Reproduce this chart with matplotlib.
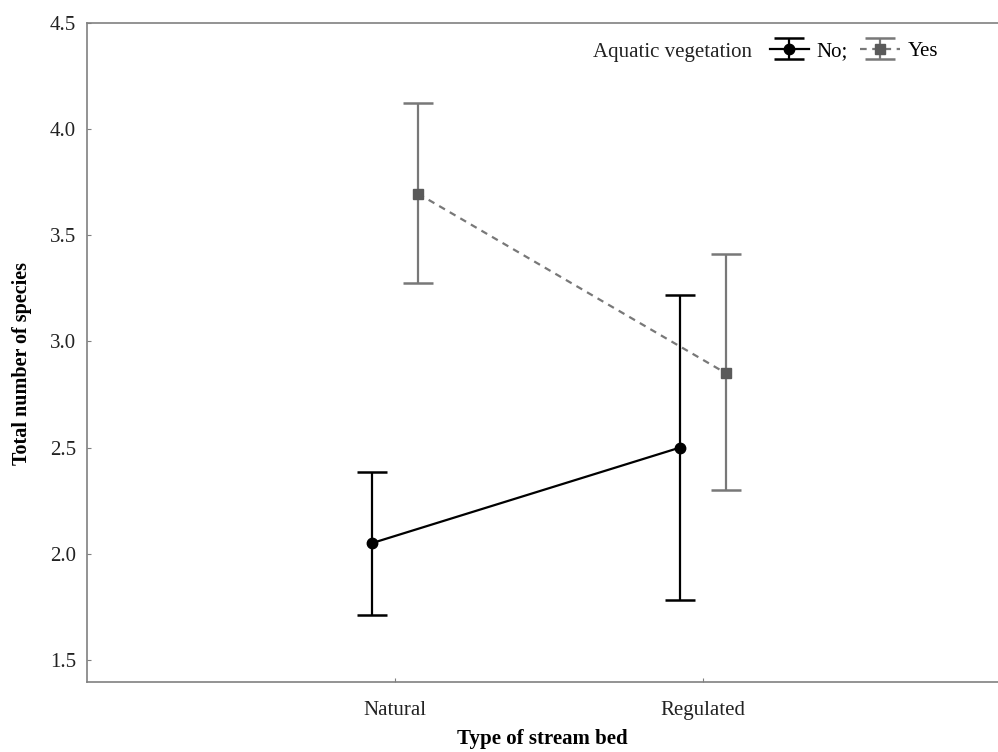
import matplotlib.pyplot as plt

plt.rcParams['font.family'] = ['Liberation Serif', 'DejaVu Serif']

beds = ["Natural", "Regulated"]
groups = ["No", "Yes"]

# means with lower / upper limits of the error bars
no_mean = [2.05, 2.50]
no_low = [1.71, 1.78]
no_high = [2.385, 3.218]

yes_mean = [3.696, 2.850]
yes_low = [3.274, 2.30]
yes_high = [4.122, 3.411]

fig = plt.figure(figsize=(9.98, 7.52), dpi=100)
ax = fig.add_axes([87 / 998, 1 - 682 / 752, 1 - 87 / 998, (682 - 23) / 752])

x = list(range(len(beds)))
off = 0.075

gray = "#787878"
ax.errorbar([i - off for i in x], no_mean,
            yerr=[[m - l for m, l in zip(no_mean, no_low)],
                  [h - m for m, h in zip(no_mean, no_high)]],
            color="black", ls="-", lw=1.6, marker="o", ms=7.5,
            mfc="black", mec="black", capsize=11, capthick=1.8, elinewidth=1.6,
            label="No;")
ax.errorbar([i + off for i in x], yes_mean,
            yerr=[[m - l for m, l in zip(yes_mean, yes_low)],
                  [h - m for m, h in zip(yes_mean, yes_high)]],
            color=gray, ls=(0, (3, 2.5)), lw=1.6, marker="s", ms=7.5,
            mfc="#5a5a5a", mec="#5a5a5a", ecolor=gray, capsize=11,
            capthick=1.8, elinewidth=1.6, label="Yes")

ax.set_xlim(-1, 1.958)
ax.set_ylim(1.396, 4.5)
ax.set_xticks(x)
ax.set_xticklabels(beds)
ax.set_yticks([1.5, 2.0, 2.5, 3.0, 3.5, 4.0, 4.5])
ax.set_yticklabels(["1.5", "2.0", "2.5", "3.0", "3.5", "4.0", "4.5"])
ax.tick_params(direction="in", length=3, width=0.8, color="#808080",
               labelsize=15, labelcolor="#222222")
ax.tick_params(axis="x", pad=14)
ax.tick_params(axis="y", pad=8)

for side in ["left", "bottom", "top"]:
    ax.spines[side].set_color("#808080")
    ax.spines[side].set_linewidth(1.2)
ax.spines["right"].set_visible(False)

ax.set_xlabel("Type of stream bed", fontsize=15, fontweight="bold", labelpad=6)
ax.set_ylabel("Total number of species", fontsize=14.5, fontweight="bold")
ax.yaxis.set_label_coords(-0.060, 0.483)

leg = ax.legend(ncol=2, loc="upper right", bbox_to_anchor=(0.943, 0.985),
                frameon=False, fontsize=15, handlelength=1.9, handletextpad=0.35,
                columnspacing=0.6, borderaxespad=0)
ax.text(0.555, 0.955, "Aquatic vegetation", transform=ax.transAxes,
        fontsize=15, va="center", ha="left", color="#222222")

fig.savefig("out.png", dpi=100)
